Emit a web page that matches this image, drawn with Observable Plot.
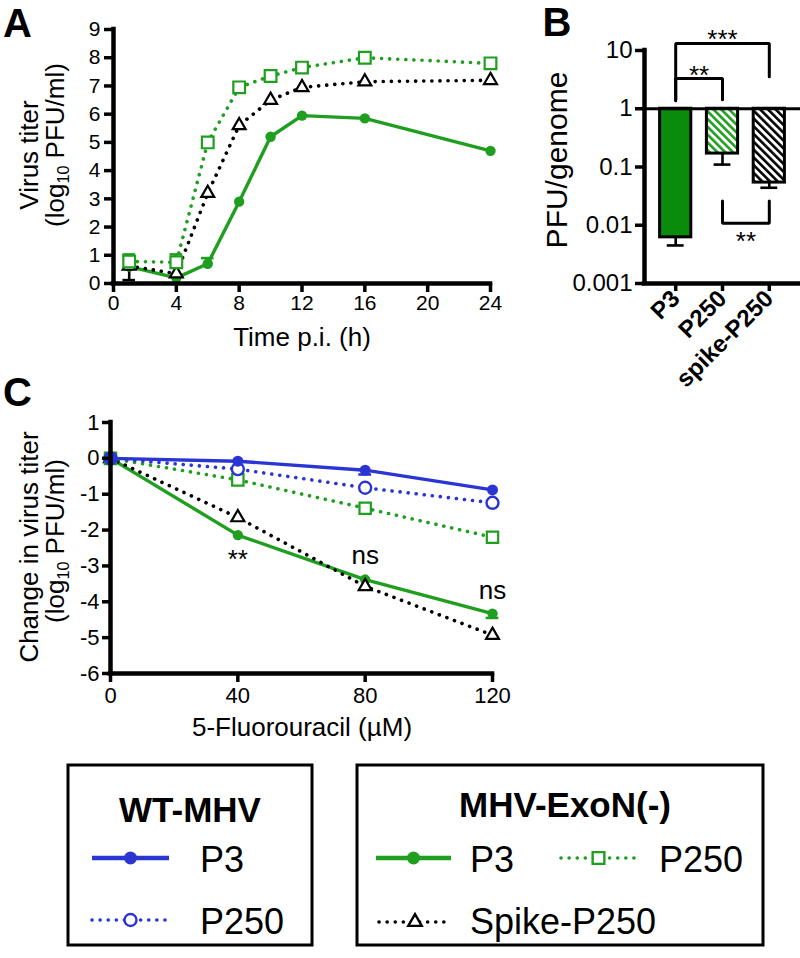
<!DOCTYPE html>
<html><head><meta charset="utf-8">
<script src="https://cdn.jsdelivr.net/npm/d3@7"></script>
<script src="https://cdn.jsdelivr.net/npm/@observablehq/plot@0.6"></script>
<style>
body{margin:0;background:#fff;font-family:"Liberation Sans",Arial,sans-serif;color:#000;}
#fig{position:relative;width:800px;height:958px;overflow:hidden;background:#fff;}
.abs{position:absolute;white-space:nowrap;line-height:1;}
.c{transform:translate(-50%,-50%);}
.rot{transform:translate(-50%,-50%) rotate(-90deg);}
.plot{position:absolute;}
.plot svg{overflow:visible;}
.plot g[aria-label$="axis tick"], .plot g[aria-label$="axis tick"] path{stroke-width:3.5px;}
sub{font-size:0.62em;vertical-align:-0.28em;line-height:0;}
</style></head><body>
<svg width="0" height="0" style="position:absolute">
 <defs>
  <pattern id="hatchG" patternUnits="userSpaceOnUse" width="5.5" height="5.5" patternTransform="rotate(-45)">
   <rect width="5.5" height="5.5" fill="#fff"/><rect width="2.6" height="5.5" fill="#1f9e1f"/>
  </pattern>
  <pattern id="hatchK" patternUnits="userSpaceOnUse" width="5.5" height="5.5" patternTransform="rotate(-45)">
   <rect width="5.5" height="5.5" fill="#fff"/><rect width="2.6" height="5.5" fill="#000"/>
  </pattern>
 </defs>
</svg>
<div id="fig"></div>
<script>
// ---------------- Panel A data ----------------
const timeA = [1, 4, 6, 8, 10, 12, 16, 24];
const xTicksA = [0, 4, 8, 12, 16, 20, 24];
const yTicksA = [0, 1, 2, 3, 4, 5, 6, 7, 8, 9];
const exoP3A = [0.6, 0.2, 0.7, 2.9, 5.2, 5.95, 5.85, 4.7];
const exoP250A = [0.78, 0.75, 5.0, 6.95, 7.35, 7.65, 8.0, 7.8];
const spikeA = [0.62, 0.35, 3.2, 5.6, 6.5, 6.95, 7.15, 7.2];
const exoP3ErrA = [0.95, null, 0.9, null, null, null, null, null];
const exoP250ErrA = [1.03, 1.03, null, null, null, null, null, null];
const spikeErrA = [0.12, 0.25, null, null, null, null, null, null];

// ---------------- Panel B data ----------------
const namesB = ["P3", "P250", "spike-P250"];
const posB = [1, 2, 3];
const valuesB = [0.0062, 0.17, 0.054];
const errLowB = [0.0045, 0.11, 0.044];
const yTicksB = [0.001, 0.01, 0.1, 1, 10];
const bracketsB = [
  [[1, 1.37], [1, 13.2], [3, 13.2], [3, 3.55]],
  [[1, 1.43], [1, 3.3], [2, 3.3], [2, 1.43]],
  [[2, 0.026], [2, 0.0108], [3, 0.0108], [3, 0.026]]
];
const starTextB = ["***", "**", "**"];
const starXB = [2, 1.5, 2.5];
const starYB = [15.5, 3.7, 0.0053];

// ---------------- Panel C data ----------------
const doseC = [0, 40, 80, 120];
const xTicksC = [0, 40, 80, 120];
const yTicksC = [1, 0, -1, -2, -3, -4, -5, -6];
const wtP3C = [0, -0.08, -0.33, -0.88];
const wtP250C = [0, -0.3, -0.82, -1.24];
const exoP3C = [0, -2.14, -3.38, -4.33];
const exoP250C = [0, -0.6, -1.39, -2.2];
const spikeC = [0, -1.65, -3.57, -4.93];
const wtP3ErrC = [null, null, -0.45, null];
const exoP3ErrC = [null, null, null, -4.45];
const annXC = [40, 80, 120];
const annTextC = ["**", "ns", "ns"];
const annYC = [-2.82, -2.71, -3.70];

// ---------------- styles ----------------
const GREEN = "#1f9e1f", BLUE = "#2b35d4", BAR_GREEN = "#0b8b0b";
const FONT = "'Liberation Sans', Arial, sans-serif";
const DOT = {strokeDasharray: "0.1,8", strokeLinecap: "round", strokeWidth: 3.6};
const fig = document.getElementById("fig");

function rows(xs, ys, es) {
  return xs.map((x, i) => ({x, y: ys[i], e: es ? es[i] : null}));
}
function place(svg, left, top) {
  const d = document.createElement("div");
  d.className = "plot";
  d.style.left = left + "px"; d.style.top = top + "px";
  d.appendChild(svg); fig.appendChild(d);
}
function label(html, x, y, size, cls, weight) {
  const d = document.createElement("div");
  d.className = "abs " + cls;
  d.style.left = x + "px"; d.style.top = y + "px";
  d.style.fontSize = size + "px";
  if (weight) d.style.fontWeight = weight;
  d.innerHTML = html; fig.appendChild(d);
}
function errMarks(data, color, cap) {
  const e = data.filter(d => d.e != null);
  return [
    Plot.ruleX(e, {x: "x", y1: "y", y2: "e", stroke: color, strokeWidth: 2.6}),
    Plot.ruleY(e, {y: "e", x1: d => d.x - cap, x2: d => d.x + cap, stroke: color, strokeWidth: 2.6})
  ];
}

// ---------------- Panel A ----------------
const a3 = rows(timeA, exoP3A, exoP3ErrA);
const a250 = rows(timeA, exoP250A, exoP250ErrA);
const aSp = rows(timeA, spikeA, spikeErrA);
const plotA = Plot.plot({
  width: 520, height: 340,
  marginLeft: 113, marginRight: 30, marginTop: 29, marginBottom: 57,
  x: {domain: [0, 24]}, y: {domain: [0, 9]},
  style: {fontFamily: FONT, fontSize: "19px", color: "black", background: "transparent", overflow: "visible"},
  marks: [
    ...errMarks(aSp, "black", 0.4),
    ...errMarks(a3, GREEN, 0.4),
    ...errMarks(a250, GREEN, 0.4),
    Plot.line(a3, {x: "x", y: "y", stroke: GREEN, strokeWidth: 3.4}),
    Plot.line(aSp, {x: "x", y: "y", stroke: "black", ...DOT}),
    Plot.line(a250, {x: "x", y: "y", stroke: GREEN, ...DOT}),
    Plot.dot(a3, {x: "x", y: "y", r: 5.2, fill: GREEN}),
    Plot.dot(aSp, {x: "x", y: "y", symbol: "triangle", r: 4.8, stroke: "black", fill: "white", strokeWidth: 2.2}),
    Plot.dot(a250, {x: "x", y: "y", symbol: "square", r: 6.6, stroke: GREEN, fill: "white", strokeWidth: 2.2}),
    Plot.ruleY([0], {stroke: "black", strokeWidth: 4.5, strokeLinecap: "square"}),
    Plot.ruleX([0], {stroke: "black", strokeWidth: 4.5, strokeLinecap: "square"}),
    Plot.axisX({ticks: xTicksA, tickSize: 9, tickPadding: 3, strokeWidth: 3.5, fontSize: 21, label: null, tickFormat: d => String(d)}),
    Plot.axisY({ticks: yTicksA, tickSize: 9, tickPadding: 4, strokeWidth: 3.5, fontSize: 21, label: null, tickFormat: d => String(d)})
  ]
});
place(plotA, 0, 0);

// ---------------- Panel B ----------------
const bData = posB.map((p, i) => ({x: p, name: namesB[i], v: valuesB[i], lo: errLowB[i]}));
const fillsB = [BAR_GREEN, "url(#hatchG)", "url(#hatchK)"];
const halfBar = 1 / 3;
const plotB = Plot.plot({
  width: 260, height: 400,
  marginLeft: 104, marginRight: 0, marginTop: 50, marginBottom: 117,
  x: {domain: [1 / 3, 11 / 3]},
  y: {type: "log", domain: [0.001, 10]},
  style: {fontFamily: FONT, fontSize: "23px", color: "black", background: "transparent", overflow: "visible"},
  marks: [
    Plot.ruleX(bData, {x: "x", y1: "v", y2: "lo", stroke: "black", strokeWidth: 2.6}),
    Plot.ruleY(bData, {y: "lo", x1: d => d.x - 0.18, x2: d => d.x + 0.18, stroke: "black", strokeWidth: 2.6}),
    ...bData.map((d, i) => Plot.rect([d], {x1: r => r.x - halfBar, x2: r => r.x + halfBar, y1: "v", y2: 1, fill: fillsB[i], stroke: "black", strokeWidth: 3})),
    ...bracketsB.map(b => Plot.line(b, {x: "0", y: "1", stroke: "black", strokeWidth: 3, strokeLinejoin: "miter"})),
    Plot.text(starTextB.map((t, i) => ({t, x: starXB[i], y: starYB[i]})), {x: "x", y: "y", text: "t", fontSize: 26}),
    Plot.ruleY([1], {stroke: "black", strokeWidth: 3}),
    Plot.ruleY([0.001], {stroke: "black", strokeWidth: 4.5, strokeLinecap: "square"}),
    Plot.ruleX([1 / 3], {stroke: "black", strokeWidth: 4.5, strokeLinecap: "square"}),
    Plot.axisX({ticks: posB, tickFormat: i => namesB[i - 1], tickRotate: -45, tickSize: 8, tickPadding: 3, strokeWidth: 3.5, fontSize: 24, fontWeight: "bold", label: null}),
    Plot.axisY({ticks: yTicksB, tickFormat: d => String(d), tickSize: 9, tickPadding: 3, strokeWidth: 3.5, fontSize: 24, label: null})
  ]
});
place(plotB, 540, 0);

// ---------------- Panel C ----------------
const cWt3 = rows(doseC, wtP3C, wtP3ErrC);
const cWt250 = rows(doseC, wtP250C);
const cExo3 = rows(doseC, exoP3C, exoP3ErrC);
const cExo250 = rows(doseC, exoP250C);
const cSp = rows(doseC, spikeC);
const plotC = Plot.plot({
  width: 520, height: 340,
  marginLeft: 110, marginRight: 28, marginTop: 42, marginBottom: 47,
  x: {domain: [0, 120]}, y: {domain: [-6, 1]},
  style: {fontFamily: FONT, fontSize: "20px", color: "black", background: "transparent", overflow: "visible"},
  marks: [
    ...errMarks(cExo3, GREEN, 2),
    ...errMarks(cWt3, BLUE, 2),
    Plot.line(cExo3, {x: "x", y: "y", stroke: GREEN, strokeWidth: 3.4}),
    Plot.line(cSp, {x: "x", y: "y", stroke: "black", ...DOT}),
    Plot.line(cExo250, {x: "x", y: "y", stroke: GREEN, ...DOT}),
    Plot.line(cWt250, {x: "x", y: "y", stroke: BLUE, ...DOT}),
    Plot.line(cWt3, {x: "x", y: "y", stroke: BLUE, strokeWidth: 3.4}),
    Plot.dot(cExo3, {x: "x", y: "y", r: 5.2, fill: GREEN}),
    Plot.dot(cSp, {x: "x", y: "y", symbol: "triangle", r: 4.8, stroke: "black", fill: "white", strokeWidth: 2.2}),
    Plot.dot(cExo250, {x: "x", y: "y", symbol: "square", r: 6.4, stroke: GREEN, fill: "white", strokeWidth: 2.2}),
    Plot.dot(cWt250, {x: "x", y: "y", r: 6, stroke: BLUE, fill: "white", strokeWidth: 2.4}),
    Plot.dot(cWt3, {x: "x", y: "y", r: 5.5, fill: BLUE}),
    Plot.text(annTextC.map((t, i) => ({t, x: annXC[i], y: annYC[i]})), {x: "x", y: "y", text: "t", fontSize: 26}),
    Plot.ruleY([-6], {stroke: "black", strokeWidth: 4.5, strokeLinecap: "square"}),
    Plot.ruleX([0], {stroke: "black", strokeWidth: 4.5, strokeLinecap: "square"}),
    Plot.axisX({ticks: xTicksC, tickSize: 9, tickPadding: 5, strokeWidth: 3.5, fontSize: 22, label: null, tickFormat: d => String(d)}),
    Plot.axisY({ticks: yTicksC, tickSize: 8, tickPadding: 3, strokeWidth: 3.5, fontSize: 22, label: null, tickFormat: d => String(d)})
  ]
});
place(plotC, 0, 380);

// ---------------- titles & panel letters ----------------
label("A", 17.5, 23, 40, "c", "bold");
label("B", 557, 22, 40, "c", "bold");
label("C", 17.5, 392, 40, "c", "bold");
label("Virus titer", 28.5, 155, 26, "rot");
label("(log<sub>10</sub> PFU/ml)", 55, 145, 26, "rot");
label("Time p.i. (h)", 302, 337, 26, "c");
label("PFU/genome", 557, 160, 30, "rot");
label("Change in virus titer", 28.5, 547, 26, "rot");
label("(log<sub>10</sub> PFU/ml)", 55, 541, 26, "rot");
label("5-Fluorouracil (µM)", 302, 727, 26, "c");

// ---------------- legend ----------------
const leg = d3.select(fig).append("svg")
  .attr("width", 800).attr("height", 958)
  .style("position", "absolute").style("left", 0).style("top", 0)
  .style("font-family", FONT);
function box(x, y, w, h) {
  leg.append("rect").attr("x", x).attr("y", y).attr("width", w).attr("height", h)
    .attr("fill", "none").attr("stroke", "black").attr("stroke-width", 3);
}
function swatch(x1, x2, y, color, dotted, symbol, filled, r) {
  const l = leg.append("line").attr("x1", x1).attr("x2", x2).attr("y1", y).attr("y2", y)
    .attr("stroke", color);
  if (dotted) l.attr("stroke-width", 3.6).attr("stroke-dasharray", "0.1,8").attr("stroke-linecap", "round");
  else l.attr("stroke-width", 4.5);
  const cx = (x1 + x2) / 2;
  leg.append("path").attr("transform", `translate(${cx},${y})`)
    .attr("d", d3.symbol(symbol, Math.PI * r * r)())
    .attr("fill", filled ? color : "white").attr("stroke", color).attr("stroke-width", filled ? 0 : 2.4);
}
function txt(s, x, y, size, anchor, weight) {
  leg.append("text").attr("x", x).attr("y", y).attr("font-size", size)
    .attr("text-anchor", anchor || "start").attr("font-weight", weight || "normal").text(s);
}
box(68, 765, 244, 180);
box(357, 765, 406, 180);
txt("WT-MHV", 190, 822, 35, "middle", "bold");
swatch(92, 169, 858, BLUE, false, d3.symbolCircle, true, 6.5);
txt("P3", 200, 872, 36);
swatch(92, 169, 920, BLUE, true, d3.symbolCircle, false, 6);
txt("P250", 200, 934, 36);
txt("MHV-ExoN(-)", 565, 817, 35, "middle", "bold");
swatch(376, 451, 858, GREEN, false, d3.symbolCircle, true, 6.5);
txt("P3", 470, 872, 36);
swatch(561, 636, 858, GREEN, true, d3.symbolSquare, false, 6.6);
txt("P250", 659, 872, 36);
swatch(379, 451, 922, "black", true, d3.symbolTriangle, false, 5);
txt("Spike-P250", 470, 934, 36);
</script>
</body></html>
